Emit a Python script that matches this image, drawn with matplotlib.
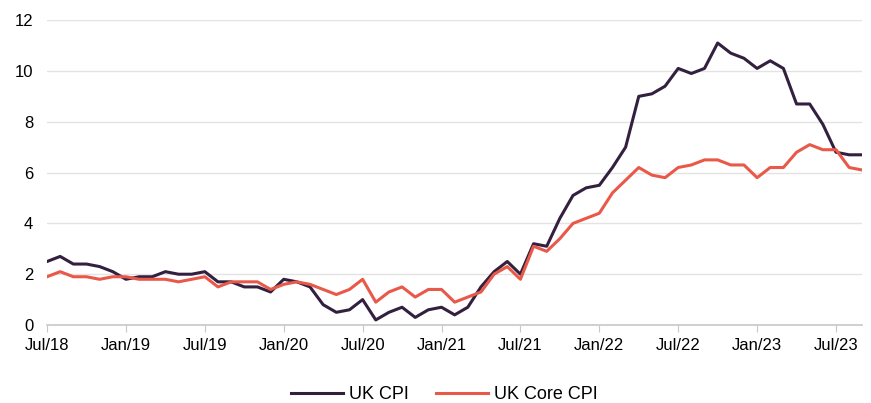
import matplotlib.pyplot as plt
import numpy as np

# monthly data Jul 2018 - Sep 2023
uk_cpi = [2.5, 2.7, 2.4, 2.4, 2.3, 2.1,
          1.8, 1.9, 1.9, 2.1, 2.0, 2.0, 2.1, 1.7, 1.7, 1.5, 1.5, 1.3,
          1.8, 1.7, 1.5, 0.8, 0.5, 0.6, 1.0, 0.2, 0.5, 0.7, 0.3, 0.6,
          0.7, 0.4, 0.7, 1.5, 2.1, 2.5, 2.0, 3.2, 3.1, 4.2, 5.1, 5.4,
          5.5, 6.2, 7.0, 9.0, 9.1, 9.4, 10.1, 9.9, 10.1, 11.1, 10.7, 10.5,
          10.1, 10.4, 10.1, 8.7, 8.7, 7.9, 6.8, 6.7, 6.7]
uk_core_cpi = [1.9, 2.1, 1.9, 1.9, 1.8, 1.9,
               1.9, 1.8, 1.8, 1.8, 1.7, 1.8, 1.9, 1.5, 1.7, 1.7, 1.7, 1.4,
               1.6, 1.7, 1.6, 1.4, 1.2, 1.4, 1.8, 0.9, 1.3, 1.5, 1.1, 1.4,
               1.4, 0.9, 1.1, 1.3, 2.0, 2.3, 1.8, 3.1, 2.9, 3.4, 4.0, 4.2,
               4.4, 5.2, 5.7, 6.2, 5.9, 5.8, 6.2, 6.3, 6.5, 6.5, 6.3, 6.3,
               5.8, 6.2, 6.2, 6.8, 7.1, 6.9, 6.9, 6.2, 6.1]
tick_labels = ['Jul/18', 'Jan/19', 'Jul/19', 'Jan/20', 'Jul/20', 'Jan/21',
               'Jul/21', 'Jan/22', 'Jul/22', 'Jan/23', 'Jul/23']

plt.rcParams['font.family'] = ['Liberation Sans', 'DejaVu Sans']

x = np.arange(len(uk_cpi))
fig = plt.figure(figsize=(8.71, 4.03), dpi=100)
ax = fig.add_axes([0.054, 0.1935, 0.936, 0.7565])

ax.plot(x, uk_cpi, color='#33203f', lw=2.2, label='UK CPI')
ax.plot(x, uk_core_cpi, color='#e8594a', lw=2.2, label='UK Core CPI')

ax.set_xlim(0, len(uk_cpi) - 1)
ax.set_ylim(0, 12)
ax.set_yticks(range(0, 13, 2))
ax.set_xticks(np.arange(0, len(uk_cpi), 6))
ax.set_xticklabels(tick_labels)
ax.grid(axis='y', color='#e3e3e3', lw=1)
ax.set_axisbelow(True)
for s in ['top', 'right', 'left']:
    ax.spines[s].set_visible(False)
ax.spines['bottom'].set_color('#c8c8c8')
ax.spines['bottom'].set_linewidth(1.2)
ax.tick_params(axis='y', length=0, pad=10, labelsize=12)
ax.tick_params(axis='x', length=5, color='#c8c8c8', pad=4, labelsize=12)

fig.legend(loc='lower center', bbox_to_anchor=(0.51, -0.04), ncol=2, frameon=False,
           fontsize=13, handlelength=2.9, columnspacing=1.5, handletextpad=0.3)

fig.savefig('out.png', dpi=100)
